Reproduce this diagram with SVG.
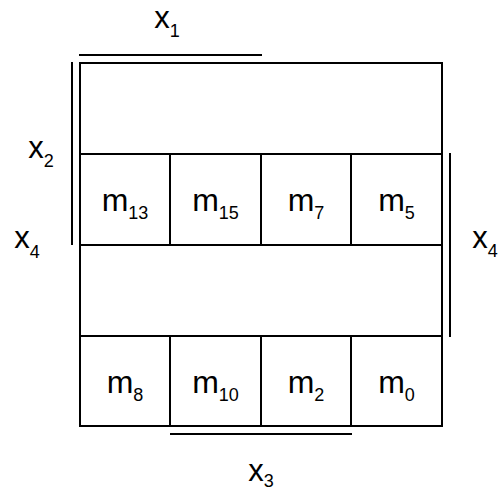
<svg xmlns="http://www.w3.org/2000/svg" width="499" height="491" viewBox="0 0 499 491">
<style>
.ln{stroke:#000;stroke-width:2;fill:none}
.bar{stroke:#000;stroke-width:2}
.t{font-family:"Liberation Sans",Arial,sans-serif;font-size:31px;fill:#000;text-anchor:middle}
.m{font-size:32px}
.s{font-size:18px}
</style>
<rect width="499" height="491" fill="#fff"/>
<g id="grid">
<rect class="ln" x="80" y="63" width="362" height="363"/>
<line class="ln" x1="80" y1="154" x2="442" y2="154"/>
<line class="ln" x1="80" y1="245" x2="442" y2="245"/>
<line class="ln" x1="80" y1="336" x2="442" y2="336"/>
<line class="ln" x1="170" y1="154" x2="170" y2="245"/>
<line class="ln" x1="261" y1="154" x2="261" y2="245"/>
<line class="ln" x1="351" y1="154" x2="351" y2="245"/>
<line class="ln" x1="170" y1="336" x2="170" y2="426"/>
<line class="ln" x1="261" y1="336" x2="261" y2="426"/>
<line class="ln" x1="351" y1="336" x2="351" y2="426"/>
</g>
<g id="bars">
<line class="bar" x1="79" y1="55" x2="262" y2="55"/>
<line class="bar" x1="72" y1="62" x2="72" y2="245"/>
<line class="bar" x1="450" y1="153" x2="450" y2="337"/>
<line class="bar" x1="170" y1="434" x2="352" y2="434"/>
</g>
<g id="labels">
<text class="t" x="167" y="28">x<tspan class="s" dy="9">1</tspan></text>
<text class="t" x="41" y="158">x<tspan class="s" dy="9">2</tspan></text>
<text class="t" x="27" y="248">x<tspan class="s" dy="10">4</tspan></text>
<text class="t" x="485" y="248">x<tspan class="s" dy="9">4</tspan></text>
<text class="t" x="261" y="481">x<tspan class="s" dy="6">3</tspan></text>
</g>
<g id="m13"><text class="t m" x="125" y="211">m<tspan class="s" dy="8">13</tspan></text></g>
<g id="m15"><text class="t m" x="215.5" y="211">m<tspan class="s" dy="8">15</tspan></text></g>
<g id="m7"><text class="t m" x="306" y="211">m<tspan class="s" dy="8">7</tspan></text></g>
<g id="m5"><text class="t m" x="396.5" y="211">m<tspan class="s" dy="8">5</tspan></text></g>
<g id="m8"><text class="t m" x="125" y="393">m<tspan class="s" dy="8">8</tspan></text></g>
<g id="m10"><text class="t m" x="215.5" y="393">m<tspan class="s" dy="8">10</tspan></text></g>
<g id="m2"><text class="t m" x="306" y="393">m<tspan class="s" dy="8">2</tspan></text></g>
<g id="m0"><text class="t m" x="396.5" y="393">m<tspan class="s" dy="8">0</tspan></text></g>
</svg>
